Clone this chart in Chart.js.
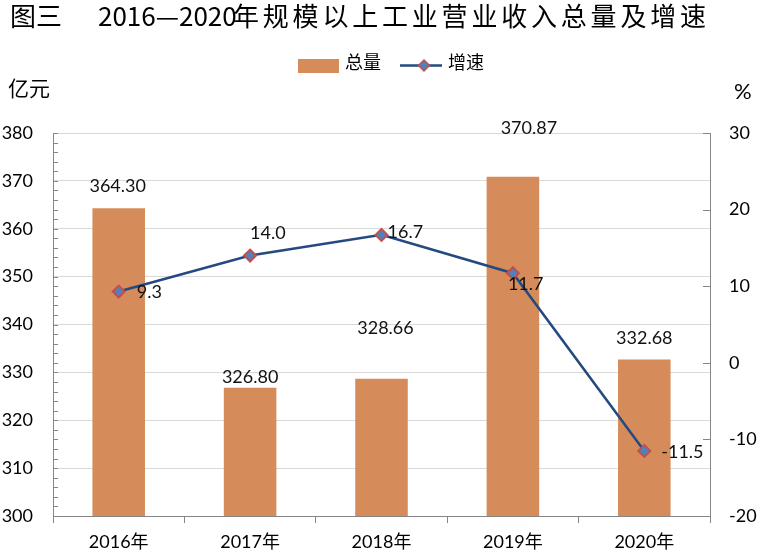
<!DOCTYPE html>
<html>
<head>
<meta charset="utf-8">
<script src="https://cdn.jsdelivr.net/npm/chart.js@4.4.0/dist/chart.umd.min.js"></script>
<style>
  html, body { margin: 0; padding: 0; background: #fff; }
  #wrap { width: 759px; height: 552px; }
</style>
</head>
<body>
<div id="wrap"><canvas id="chart"></canvas></div>
<script>
// data
const years = ['2016年', '2017年', '2018年', '2019年', '2020年'];
const totals = [364.30, 326.80, 328.66, 370.87, 332.68];
const growth = [9.3, 14.0, 16.7, 11.7, -11.5];
const totalLabels = ['364.30', '326.80', '328.66', '370.87', '332.68'];
const growthLabels = ['9.3', '14.0', '16.7', '11.7', '-11.5'];

// where each value label sits relative to its mark (dx, dy in px)
const barLabelShift = [[-1, -22], [0, -11], [4, -51], [16, -49], [0, -21]];
const lineLabelShift = [[18, 1], [0, -22], [6, -3], [-5, 11], [17, 1]];

const barColor = '#D68C5A';
const lineColor = '#254A80';
const axisGray = '#868686';
const latin = 'Lato, "Noto Sans CJK SC", sans-serif';
const cjk = '"Noto Sans CJK SC", sans-serif';

const decorations = {
  id: 'decorations',
  afterDraw(chart) {
    const ctx = chart.ctx;
    const area = chart.chartArea;
    const yL = chart.scales.y, yR = chart.scales.y1;
    ctx.save();

    // inside tick marks
    ctx.strokeStyle = axisGray;
    ctx.lineWidth = 1;
    ctx.beginPath();
    for (let v = 300; v <= 380; v += 2) {
      const py = Math.round(yL.getPixelForValue(v)) + 0.5;
      ctx.moveTo(area.left, py); ctx.lineTo(area.left + 5, py);
    }
    for (let v = -20; v <= 30; v += 10) {
      const py = Math.round(yR.getPixelForValue(v)) + 0.5;
      ctx.moveTo(area.right - 7, py); ctx.lineTo(area.right, py);
    }
    ctx.stroke();

    // title
    ctx.fillStyle = '#000';
    ctx.textBaseline = 'middle';
    ctx.textAlign = 'left';
    ctx.font = '26px ' + cjk;
    ctx.fillText('图三', 10, 16);
    ctx.fillText('2016—2020', 98, 16);
    ctx.letterSpacing = '3.8px';
    ctx.fillText('年规模以上工业营业收入总量及增速', 233, 16);
    ctx.letterSpacing = '0px';

    // legend
    ctx.fillStyle = barColor;
    ctx.fillRect(298, 59, 41, 14);
    ctx.strokeStyle = lineColor;
    ctx.lineWidth = 2.5;
    ctx.beginPath(); ctx.moveTo(400, 65.5); ctx.lineTo(442, 65.5); ctx.stroke();
    ctx.beginPath();
    ctx.moveTo(424, 60); ctx.lineTo(429.5, 65.5); ctx.lineTo(424, 71); ctx.lineTo(418.5, 65.5); ctx.closePath();
    ctx.fillStyle = '#4F81BD'; ctx.fill();
    ctx.strokeStyle = '#C0504D'; ctx.lineWidth = 1.5; ctx.stroke();
    ctx.fillStyle = '#000';
    ctx.font = '18px ' + cjk;
    ctx.fillText('总量', 345, 62);
    ctx.fillText('增速', 448, 62);

    // axis units
    ctx.font = '21px ' + cjk;
    ctx.fillText('亿元', 8, 88);
    ctx.font = '22px ' + latin;
    ctx.fillText('%', 734, 92);

    // value labels
    ctx.font = '18px ' + latin;
    ctx.fillStyle = '#111';
    const bars = chart.getDatasetMeta(0).data;
    ctx.textAlign = 'center';
    bars.forEach((el, i) => {
      ctx.fillText(totalLabels[i], el.x + barLabelShift[i][0], el.y + barLabelShift[i][1]);
    });
    const pts = chart.getDatasetMeta(1).data;
    ctx.textAlign = 'left';
    pts.forEach((el, i) => {
      ctx.fillText(growthLabels[i], el.x + lineLabelShift[i][0], el.y + lineLabelShift[i][1]);
    });
    ctx.restore();
  }
};

new Chart(document.getElementById('chart'), {
  data: {
    labels: years,
    datasets: [
      { type: 'bar', label: '总量', data: totals, yAxisID: 'y',
        backgroundColor: barColor, barPercentage: 0.4, categoryPercentage: 1, order: 2 },
      { type: 'line', label: '增速', data: growth, yAxisID: 'y1',
        borderColor: lineColor, borderWidth: 2.5, tension: 0,
        pointStyle: 'rectRot', pointRadius: 6, pointBorderWidth: 2,
        pointBackgroundColor: '#4F81BD', pointBorderColor: '#C0504D', order: 1 }
    ]
  },
  options: {
    responsive: true,
    maintainAspectRatio: false,
    animation: false,
    layout: { padding: { top: 133, left: 0, right: 0, bottom: 0 } },
    plugins: { legend: { display: false }, title: { display: false }, tooltip: { enabled: false } },
    scales: {
      x: {
        offset: true,
        grid: { offset: true, drawOnChartArea: false, tickLength: 7, color: axisGray },
        border: { color: axisGray },
        ticks: { font: { family: latin, size: 18 }, color: '#000', padding: 8 },
        afterFit: s => { s.height = 36; }
      },
      y: {
        position: 'left', min: 300, max: 380,
        ticks: { stepSize: 10, font: { family: latin, size: 18 }, color: '#000', padding: 20 },
        grid: { color: '#D9D9D9', drawTicks: false },
        border: { color: axisGray },
        afterFit: s => { s.width = 53; }
      },
      y1: {
        position: 'right', min: -20, max: 30,
        ticks: { stepSize: 10, font: { family: latin, size: 18 }, color: '#000', padding: 19 },
        grid: { drawOnChartArea: false, drawTicks: false },
        border: { color: axisGray },
        afterFit: s => { s.width = 49; }
      }
    }
  },
  plugins: [decorations]
});
</script>
</body>
</html>
